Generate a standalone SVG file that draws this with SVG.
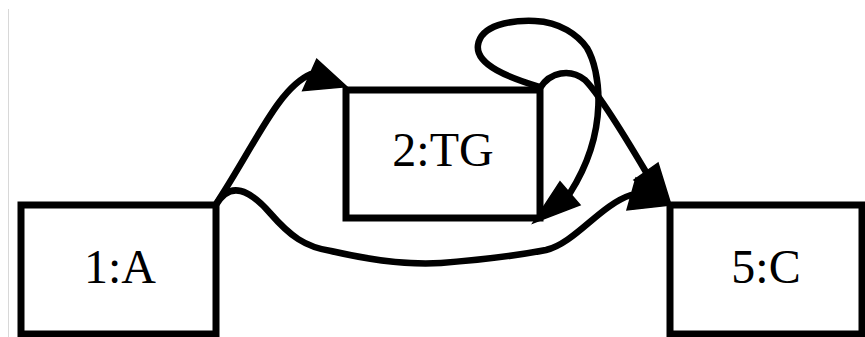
<svg xmlns="http://www.w3.org/2000/svg" width="865" height="337" viewBox="0 0 865 337">
<style>
.box{fill:#fff;stroke:#000;stroke-width:7}
.lbl{font-family:"Liberation Serif","Times New Roman",serif;font-size:48px;fill:#000;text-anchor:middle}
.edge{fill:none;stroke:#000;stroke-width:6.5;stroke-linecap:round}
.ah{fill:#000;stroke:#000;stroke-width:1.5;stroke-linejoin:miter}
</style>
<rect width="865" height="337" fill="#fff"/>
<line x1="8.5" y1="9" x2="8.5" y2="337" stroke="#d8d8d8" stroke-width="1"/>
<g id="node1">
<rect class="box" x="21" y="205" width="195" height="129"/>
<text class="lbl" x="120" y="283">1:A</text>
</g>
<g id="node2">
<rect class="box" x="346" y="90" width="194" height="128"/>
<text class="lbl" x="443" y="166">2:TG</text>
</g>
<g id="node5">
<rect class="box" x="670" y="205" width="192" height="129"/>
<text class="lbl" x="766" y="283">5:C</text>
</g>
<g id="edges">
<path class="edge" d="M216,204 C255,145 278,88 311,74"/>
<polygon class="ah" points="316.7,59.3 302.7,90.7 346.7,86.7"/>
<path class="edge" d="M216,205 C230,180 250,190 270,213 C290,236 305,247 331,251 C370,260 410,265 441,263 C480,260 520,255 546,250 C575,243 600,205 631,195"/>
<polygon class="ah" points="636,178 627,210 671,205"/>
<path class="edge" d="M540,88 C550,72 570,68 585,80 C600,95 630,145 646,172"/>
<polygon class="ah" points="658,163 634,180 671,205"/>
<path class="edge" d="M540,87 C510,78 475,65 478,45 C481,25 510,20 535,21 C560,22 578,35 587,48 C600,70 610,130 570,193"/>
<polygon class="ah" points="560,181.7 580,205 533,223"/>
</g>
</svg>
